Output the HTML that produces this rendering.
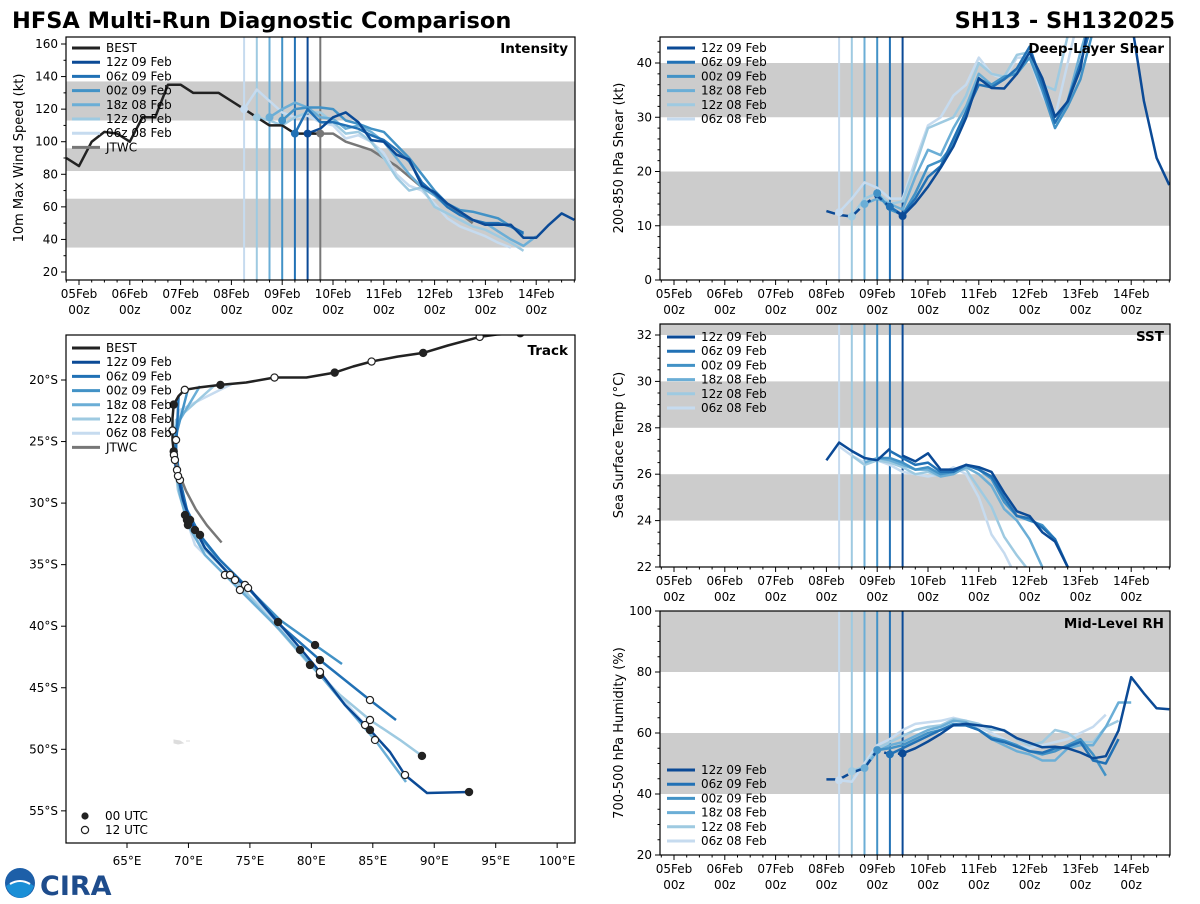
<!DOCTYPE html>
<html><head><meta charset="utf-8">
<style>
body{margin:0;background:#fff;width:1200px;height:900px;overflow:hidden;font-family:"DejaVu Sans","Liberation Sans",sans-serif;}
svg text{font-family:"DejaVu Sans","Liberation Sans",sans-serif;}
</style></head>
<body>
<svg id="chart" width="1200" height="900" viewBox="0 0 1200 900" xmlns="http://www.w3.org/2000/svg">
<text x="12" y="28" font-size="22.5" font-weight="bold" fill="#000">HFSA Multi-Run Diagnostic Comparison</text>
<text x="1175" y="28" font-size="22.5" font-weight="bold" fill="#000" text-anchor="end">SH13 - SH132025</text>
<g>
<circle cx="20" cy="883" r="15" fill="#1d5fa8"/>
<path d="M6 886 Q20 876 34 886 Q30 897 20 898 Q10 897 6 886Z" fill="#1b8fd6"/>
<path d="M10 884 Q20 878 30 884" stroke="#fff" stroke-width="2" fill="none"/>
<text x="40" y="895" font-size="27" font-weight="bold" fill="#1e4c8c" font-family="Liberation Serif,serif">CIRA</text>
</g>
<g id="plots"></g>
</svg>
<script>
// ---------- DATA ----------
const runNames = ["12z 09 Feb","06z 09 Feb","00z 09 Feb","18z 08 Feb","12z 08 Feb","06z 08 Feb"];
const runColors = ["#0b4a96","#2171b5","#4292c6","#6baed6","#9ecae1","#c6dbef"];
const runInitHours = [108,102,96,90,84,78];
const jtwcInitHour = 114;
const dayLabels = ["05Feb","06Feb","07Feb","08Feb","09Feb","10Feb","11Feb","12Feb","13Feb","14Feb"];

// Intensity (kt), times in hours since 05Feb 00z
const bestHours = [-6,0,6,12,18,24,30,36,42,48,54,60,66,72,78,84,90,96,102,108,114];
const bestVmax  = [90,85,100,106,105,100,115,115,135,135,130,130,130,125,120,115,110,110,105,105,105];
const jtwcHours = [114,120,126,138,150,162,174,186];
const jtwcVmax  = [105,105,100,95,85,72,62,50];
const vmax12z09 = [105,108,115,118,112,101,100,92,89,73,69,62,57,52,49,49,49,41,41,49,56,52];
const vmax06z09 = [105,120,112,112,110,108,104,101,95,88,75,68,60,55,52,50,50,48,44];
const vmax00z09 = [113,120,121,121,120,113,111,108,106,98,90,80,70,62,58,57,55,53,48,43];
const vmax18z08 = [115,120,124,121,115,114,108,110,106,100,90,80,72,67,60,55,52,50,45,40,36,42];
const vmax12z08 = [115,113,110,115,118,118,112,105,106,100,90,78,70,72,60,56,52,48,46,42,38,33];
const vmax06z08 = [120,132,125,118,115,116,112,110,102,104,100,93,80,73,70,62,53,48,45,42,38,35];

// Shear (kt)
const shearHistHours = [72,78,84,90,96,102,108];
const shearHist = [12.7,12,11.7,14,15.5,13.5,11.8];
const shear12z09 = [11.8,14.2,17.2,20.7,24.6,29.9,37.2,35.4,35.3,38,42,37.2,30.1,32.9,38.9,52,60,60,48,33,22.5,17.5];
const shear06z09 = [13.5,12,15,19,21,26,31,36,35.5,37,39,43,36,29,33,40,48];
const shear00z09 = [16,13,12,16,21,22,25,31,37,36,37.5,38,41,35,28,32,37,46];
const shear18z08 = [14,15,14,13,19,24,23,28,32,38,36,37,38.5,42,36,29,33,42,50];
const shear12z08 = [11.7,15,16,14,14.5,21,28,29,30,34,40,38,37.5,41.5,42,36,35,45,55];
const shear06z08 = [12.5,15,18,17,15,15,22,28.5,30,34,36,41,38,37,41,41,34,30,40,50];

// SST (C)
const sstHistHours = [72,78,84,90,96,102];
const sstHist = [26.6,27.36,27.0,26.7,26.6,27.1];
const sst12z09 = [26.8,26.55,26.9,26.2,26.2,26.4,26.3,26.1,25.2,24.4,24.2,23.5,23.1,22.0];
const sst06z09 = [27.0,26.7,26.4,26.5,26.1,26.1,26.4,26.2,25.9,25.0,24.2,24.1,23.7,23.2,22.0];
const sst00z09 = [26.7,26.7,26.5,26.2,26.3,26.0,26.1,26.4,26.2,25.8,24.8,24.2,24.0,23.8,23.2,22.0];
const sst18z08 = [26.5,26.7,26.6,26.4,26.2,26.2,25.9,26.0,26.3,26.0,25.5,24.5,24.0,23.2,22.0];
const sst12z08 = [26.8,26.4,26.6,26.5,26.3,26.0,26.1,25.9,26.2,26.2,25.4,24.6,23.3,22.5,21.8];
const sst06z08 = [27.2,26.8,26.5,26.6,26.4,26.1,26.0,25.9,26.0,26.3,26.0,25.0,23.4,22.6,21.5];

// RH (%)
const rhHistHours = [72,78,84,90,96,102,108];
const rhHist = [44.8,44.8,47,48.5,54.4,53,53.3];
const rh12z09 = [53.3,55,57.2,59.7,62.6,63,62.5,62,60.8,58.3,56.8,55.3,55.5,55,53.6,51.7,52.4,60.8,78.3,73,68.1,67.8];
const rh06z09 = [53,55,57,59,61,62.5,62.5,61,58,57,55.5,54,53.5,55,55.5,57,51,50,58];
const rh00z09 = [54.4,55,56,58,60,61,63,62.5,61,58.5,57.5,56,54,53,54,56,58,53,46];
const rh18z08 = [48.5,54,56,57,59,61,62,64,63.5,61,58,56,54,53,51,51,55,56,56,62,70,70];
const rh12z08 = [47.5,49,55,57,59,61,62,62.5,64.5,64,63,61,61,58,56,57,61,60,57,57,62,64];
const rh06z08 = [44.5,44,50,56,58,61,63,63.5,64,65,64,62,60,58,56,55,56,57,58,60,62,66];

// Track (lon E, lat)
const bestLon = [97.0,95.1,93.7,91.1,89.1,87.0,84.9,83.4,81.9,79.6,77.0,74.7,72.6,70.9,69.7,69.2,68.8,68.7,68.7,68.7,68.8];
const bestLat = [-16.2,-16.3,-16.5,-17.2,-17.8,-18.1,-18.5,-18.9,-19.4,-19.8,-19.8,-20.2,-20.4,-20.6,-20.8,-21.3,-22.0,-23.1,-24.1,-24.9,-25.8];
const trk12z09Lon = [68.8,68.9,69.15,69.56,70.13,71.35,73.38,74.85,77.29,79.08,80.7,82.74,84.77,86.4,87.62,89.41,92.83];
const trk12z09Lat = [-25.8,-26.66,-27.8,-29.75,-31.37,-33.65,-35.84,-36.82,-39.66,-41.77,-43.72,-46.4,-48.43,-50.22,-52.09,-53.55,-53.47];
const trk06z09Lon = [69.2,68.99,69.31,69.88,70.94,72.57,74.85,77.45,80.7,82.33,84.77,86.89];
const trk06z09Lat = [-21.3,-25.69,-28.12,-30.56,-32.59,-34.62,-36.9,-39.9,-42.75,-44.05,-46.0,-47.62];
const trk00z09Lon = [69.96,68.9,69.07,69.72,70.53,72.16,74.6,77.45,80.3,82.49];
const trk00z09Lat = [-20.73,-24.87,-27.31,-30.15,-32.19,-34.22,-36.65,-39.5,-41.53,-43.07];
const trk18z08Lon = [70.94,68.82,68.9,69.31,69.96,71.35,74.19,77.45,80.7,82.74,85.18,87.7];
const trk18z08Lat = [-20.49,-24.06,-26.5,-29.34,-31.78,-34.22,-37.06,-40.31,-43.96,-46.4,-49.24,-52.66];
const trk12z08Lon = [72.16,68.99,68.82,69.15,69.88,70.94,73.79,77.04,79.89,82.33,84.77,87.21,89.0];
const trk12z08Lat = [-20.41,-23.25,-26.09,-28.94,-31.37,-33.4,-36.25,-39.9,-43.15,-45.59,-47.62,-49.24,-50.54];
const trk06z08Lon = [73.54,69.31,68.99,69.15,69.72,70.53,72.97,75.82,79.08,81.92,84.37,84.93];
const trk06z08Lat = [-20.32,-22.44,-24.87,-28.12,-30.97,-33.4,-35.84,-38.28,-41.93,-45.18,-48.03,-48.68];
const jtwcTrkLon = [68.8,69.2,69.8,70.6,71.5,72.7];
const jtwcTrkLat = [-25.8,-27.5,-29.0,-30.5,-31.8,-33.2];

// ---------- DRAW ----------
const NS="http://www.w3.org/2000/svg";
const root=document.getElementById('plots');
function mk(tag,attrs,parent){const e=document.createElementNS(NS,tag);for(const k in attrs)e.setAttribute(k,attrs[k]);(parent||root).appendChild(e);return e;}
function txt(s,attrs,parent){const e=mk('text',attrs,parent);e.textContent=s;return e;}
const PXH=50.8/24;
const runVmax=[vmax12z09,vmax06z09,vmax00z09,vmax18z08,vmax12z08,vmax06z08];
const runShear=[shear12z09,shear06z09,shear00z09,shear18z08,shear12z08,shear06z08];
const runSst=[sst12z09,sst06z09,sst00z09,sst18z08,sst12z08,sst06z08];
const runRh=[rh12z09,rh06z09,rh00z09,rh18z08,rh12z08,rh06z08];
const trkLons=[trk12z09Lon,trk06z09Lon,trk00z09Lon,trk18z08Lon,trk12z08Lon,trk06z08Lon];
const trkLats=[trk12z09Lat,trk06z09Lat,trk00z09Lat,trk18z08Lat,trk12z08Lat,trk06z08Lat];
let clipId=0;

function panel(name,L,R,T,B){
  const g=mk('g',{});
  
  
  const id='clip'+(clipId++);
  const cp=mk('clipPath',{id:id},g);mk('rect',{x:L,y:T,width:R-L,height:B-T},cp);
  const inner=mk('g',{'clip-path':'url(#'+id+')'},g);
  return {g,inner,L,R,T,B};
}
function frame(p){mk('rect',{x:p.L,y:p.T,width:p.R-p.L,height:p.B-p.T,fill:'none',stroke:'#000','stroke-width':1.2},p.g);}
function bands(p,ys,list){list.forEach(b=>{const y1=ys(b[1]),y2=ys(b[0]);const r=mk('rect',{x:p.L,y:y1,width:p.R-p.L,height:y2-y1,fill:'#cccccc'},p.inner);});}
function yTicks(p,ys,min,max,step,minor,fmt){
  for(let v=min-step;v<=max+1e-9;v+=minor){const y=ys(v);if(y<p.T-0.5||y>p.B+0.5)continue;const isMaj=Math.abs((v-min)/step-Math.round((v-min)/step))<1e-6;mk('line',{x1:p.L,x2:p.L-(isMaj?5:2.5),y1:y,y2:y,stroke:'#000','stroke-width':1},p.g);
    if(isMaj){const t=txt(fmt(v),{x:p.L-8,y:y+4,'font-size':12,'text-anchor':'end',fill:'#000'},p.g);}}
}
function timeTicks(p,xs){
  for(let h=-6;h<=240;h+=6){const x=xs(h);if(x<p.L||x>p.R)continue;const maj=h%24===0;mk('line',{x1:x,x2:x,y1:p.B,y2:p.B+(maj?5:2.5),stroke:'#000','stroke-width':1},p.g);}
  dayLabels.forEach((d,i)=>{const x=xs(i*24);const t=txt(d,{x:x,y:p.B+18,'font-size':12,'text-anchor':'middle'},p.g);const t2=txt('00z',{x:x,y:p.B+34,'font-size':12,'text-anchor':'middle'},p.g);});
}
function yTitle(s,x,y){const t=txt(s,{x:x,y:y,'font-size':13,'text-anchor':'middle',transform:'rotate(-90 '+x+' '+y+')'});}
function pTitle(p,s,x,y){const t=txt(s,{x:x,y:y,'font-size':13.5,'font-weight':'bold','text-anchor':'end'},p.g);}
function series(p,xs,ys,hours,vals,color,w,dash,name){
  const pts=vals.map((v,i)=>xs(hours[i]).toFixed(1)+','+ys(v).toFixed(1)).join(' ');
  const a={points:pts,fill:'none',stroke:color,'stroke-width':w,'stroke-linejoin':'round'};if(dash)a['stroke-dasharray']=dash;
  const e=mk('polyline',a,p.inner);return e;
}
function hoursFrom(start,n){const a=[];for(let i=0;i<n;i++)a.push(start+6*i);return a;}
function initLines(p,xs,withJtwc){
  for(let i=5;i>=0;i--){const x=xs(runInitHours[i]);const l=mk('line',{x1:x,x2:x,y1:p.T,y2:p.B,stroke:runColors[i],'stroke-width':2},p.inner);}
  if(withJtwc){const x=xs(jtwcInitHour);const l=mk('line',{x1:x,x2:x,y1:p.T,y2:p.B,stroke:'#777','stroke-width':2},p.inner);}
}
function legend(p,x,y,entries){
  const g=mk('g',{},p.g);
  entries.forEach((e,i)=>{const yy=y+i*14.2;const eg=mk('g',{},g);
    mk('line',{x1:x,x2:x+28,y1:yy,y2:yy,stroke:e[1],'stroke-width':3},eg);txt(e[0],{x:x+34,y:yy+4,'font-size':12},eg);});
}
const runEntries=runNames.map((n,i)=>[n,runColors[i]]);

// Intensity panel
(function(){
  const p=panel('intensity-panel',66,575,37,280);
  const xs=h=>79+h*PXH, ys=v=>272-(v-20)*1.6286;
  bands(p,ys,[[35,65],[82,96],[113,137]]);
  initLines(p,xs,true);
  series(p,xs,ys,jtwcHours,jtwcVmax,'#777',2.5,null,'jtwc-intensity-line');
  for(let i=5;i>=0;i--)series(p,xs,ys,hoursFrom(runInitHours[i],runVmax[i].length),runVmax[i],runColors[i],2.5,null,'intensity-line-'+i);
  series(p,xs,ys,bestHours,bestVmax,'#222',2.5,null,'best-intensity-line');
  for(let i=5;i>=0;i--){const c=mk('circle',{cx:xs(runInitHours[i]),cy:ys(runVmax[i][0]),r:4,fill:runColors[i]},p.inner);}
  const jc=mk('circle',{cx:xs(jtwcHours[0]),cy:ys(jtwcVmax[0]),r:4,fill:'#777'},p.inner);
  frame(p);yTicks(p,ys,20,160,20,10,v=>String(v));
  timeTicks(p,xs);
  legend(p,72,48,[['BEST','#222']].concat(runEntries).concat([['JTWC','#777']]));
  pTitle(p,'Intensity',568,53);
  yTitle('10m Max Wind Speed (kt)',23,158);
})();

// Shear panel
(function(){
  const p=panel('shear-panel',660,1170,37,280);
  const xs=h=>674+h*PXH, ys=v=>280-v*5.425;
  bands(p,ys,[[10,20],[30,40]]);
  initLines(p,xs,false);
  for(let i=5;i>=0;i--)series(p,xs,ys,hoursFrom(runInitHours[i],runShear[i].length),runShear[i],runColors[i],2.5,null,'shear-line-'+i);
  series(p,xs,ys,shearHistHours,shearHist,runColors[0],2.5,'9,5','shear-history-line');
  for(let i=5;i>=0;i--){const c=mk('circle',{cx:xs(runInitHours[i]),cy:ys(runShear[i][0]),r:4,fill:runColors[i]},p.inner);}
  frame(p);yTicks(p,ys,0,45,10,2,v=>String(v));
  timeTicks(p,xs);
  legend(p,667,48,runEntries);
  pTitle(p,'Deep-Layer Shear',1164,53);
  yTitle('200-850 hPa Shear (kt)',623,158);
})();

// SST panel
(function(){
  const p=panel('sst-panel',660,1170,324,567);
  const xs=h=>674+h*PXH, ys=v=>335+(32-v)*23.2;
  bands(p,ys,[[24,26],[28,30],[32,33]]);
  initLines(p,xs,false);
  for(let i=5;i>=0;i--)series(p,xs,ys,hoursFrom(runInitHours[i],runSst[i].length),runSst[i],runColors[i],2.5,null,'sst-line-'+i);
  series(p,xs,ys,sstHistHours,sstHist,runColors[0],2.5,null,'sst-history-line');
  frame(p);yTicks(p,ys,22,32,2,0.5,v=>String(v));
  timeTicks(p,xs);
  legend(p,667,337,runEntries);
  pTitle(p,'SST',1164,341);
  yTitle('Sea Surface Temp (°C)',623,445);
})();

// RH panel
(function(){
  const p=panel('rh-panel',660,1170,611,855);
  const xs=h=>674+h*PXH, ys=v=>855-(v-20)*3.05;
  bands(p,ys,[[40,60],[80,100]]);
  initLines(p,xs,false);
  for(let i=5;i>=0;i--)series(p,xs,ys,hoursFrom(runInitHours[i],runRh[i].length),runRh[i],runColors[i],2.5,null,'rh-line-'+i);
  series(p,xs,ys,rhHistHours,rhHist,runColors[0],2.5,'9,5','rh-history-line');
  for(let i=5;i>=0;i--){const c=mk('circle',{cx:xs(runInitHours[i]),cy:ys(runRh[i][0]),r:4,fill:runColors[i]},p.inner);}
  frame(p);yTicks(p,ys,20,100,20,5,v=>String(v));
  timeTicks(p,xs);
  legend(p,667,770,runEntries);
  pTitle(p,'Mid-Level RH',1164,628);
  yTitle('700-500 hPa Humidity (%)',623,733);
})();

// Track panel
(function(){
  const p=panel('track-panel',66,575,335,843);
  const xs=lon=>127+(lon-65)*12.29, ys=lat=>380+(-lat-20)*12.31;
  const isle=mk('path',{d:'M174 740 l6 1 l3 2 l-5 1 l-4 -1z M186 741 l4 0',fill:'#ddd',stroke:'#ddd','stroke-width':1},p.inner);
  
  function trk(lons,lats,color,w,name,markers){
    const pts=lons.map((v,i)=>xs(v).toFixed(1)+','+ys(lats[i]).toFixed(1)).join(' ');
    const e=mk('polyline',{points:pts,fill:'none',stroke:color,'stroke-width':w,'stroke-linejoin':'round'},p.inner);
    
    if(markers){lons.forEach((v,i)=>{if(i%2===1)return;const filled=(i/2)%2===0;const c=mk('circle',{cx:xs(v),cy:ys(lats[i]),r:3.6,fill:filled?'#222':'#fff',stroke:'#222','stroke-width':1.2},p.inner);});}
  }
  for(let i=5;i>=0;i--)trk(trkLons[i],trkLats[i],runColors[i],2.5,'track-line-'+i,false);
  trk(jtwcTrkLon,jtwcTrkLat,'#777',2.5,'jtwc-track-line',false);
  trk(bestLon,bestLat,'#222',2.5,'best-track-line',true);
  for(let i=5;i>=0;i--){const L=trkLons[i],T=trkLats[i];for(let k=2;k<L.length;k+=2){const filled=(k/2)%2===0;const c=mk('circle',{cx:xs(L[k]),cy:ys(T[k]),r:3.6,fill:filled?'#222':'#fff',stroke:'#222','stroke-width':1.2},p.inner);}}
  frame(p);
  for(let lon=65;lon<=100;lon+=5){const x=xs(lon);mk('line',{x1:x,x2:x,y1:p.B,y2:p.B+5,stroke:'#000'},p.g);const t=txt(lon+'°E',{x:x,y:p.B+22,'font-size':12,'text-anchor':'middle'},p.g);}
  for(let lat=20;lat<=55;lat+=5){const y=ys(-lat);mk('line',{x1:p.L,x2:p.L-5,y1:y,y2:y,stroke:'#000'},p.g);const t=txt(lat+'°S',{x:p.L-8,y:y+4,'font-size':12,'text-anchor':'end'},p.g);}
  legend(p,72,348,[['BEST','#222']].concat(runEntries).concat([['JTWC','#777']]));
  const lg=mk('g',{},p.g);
  mk('circle',{cx:85,cy:816,r:3.6,fill:'#222'},lg);txt('00 UTC',{x:105,y:820,'font-size':12},lg);
  mk('circle',{cx:85,cy:830,r:3.6,fill:'#fff',stroke:'#222','stroke-width':1.2},lg);txt('12 UTC',{x:105,y:834,'font-size':12},lg);
  pTitle(p,'Track',568,355);
})();
</script>
</body></html>
